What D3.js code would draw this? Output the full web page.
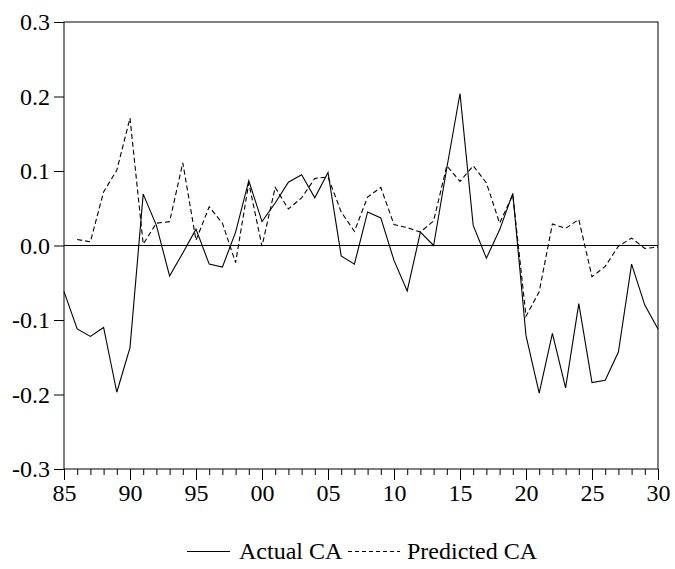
<!DOCTYPE html>
<html>
<head>
<meta charset="utf-8">
<script src="https://cdn.jsdelivr.net/npm/d3@7"></script>
<style>
  body { margin: 0; background: #fff; }
  svg { display: block; }
  svg text { font-family: "Liberation Serif", Tinos, "Times New Roman", serif !important; fill: #000; }
</style>
</head>
<body>
<svg id="chart" width="675" height="569"></svg>
<script>
const years = d3.range(1985, 2031);
const actualCA = [
  -0.062, -0.112, -0.122, -0.110, -0.197, -0.137, 0.069, 0.027, -0.041, -0.010,
  0.022, -0.025, -0.029, 0.018, 0.087, 0.032, 0.057, 0.085, 0.095, 0.064,
  0.098, -0.014, -0.025, 0.045, 0.037, -0.020, -0.061, 0.018, 0.000, 0.104,
  0.204, 0.027, -0.017, 0.021, 0.070, -0.121, -0.198, -0.118, -0.191, -0.078,
  -0.184, -0.181, -0.143, -0.025, -0.080, -0.112
];
const predictedCA = [
  null, 0.008, 0.005, 0.072, 0.101, 0.171, 0.002, 0.030, 0.032, 0.111,
  0.007, 0.052, 0.030, -0.023, 0.084, -0.001, 0.078, 0.049, 0.064, 0.090,
  0.092, 0.045, 0.019, 0.065, 0.078, 0.028, 0.024, 0.018, 0.033, 0.107,
  0.086, 0.107, 0.084, 0.030, 0.068, -0.095, -0.062, 0.029, 0.023, 0.035,
  -0.042, -0.028, -0.001, 0.010, -0.004, -0.002
];
const yTicks = [-0.3, -0.2, -0.1, 0.0, 0.1, 0.2, 0.3];
const yTickLabels = ["-0.3", "-0.2", "-0.1", "0.0", "0.1", "0.2", "0.3"];
const xMajorTicks = [1985, 1990, 1995, 2000, 2005, 2010, 2015, 2020, 2025, 2030];
const xTickLabels = ["85", "90", "95", "00", "05", "10", "15", "20", "25", "30"];
const seriesNames = ["Actual CA", "Predicted CA"];

const FONT = '"Liberation Serif", Tinos, "Times New Roman", serif';
const FS = 24;
const svg = d3.select("#chart");
const L = 64, R = 658, T = 22, B = 469;
const x = d3.scaleLinear().domain([1985, 2030]).range([L, R]);
const y = d3.scaleLinear().domain([-0.3, 0.3]).range([B, T]);

// frame
svg.append("rect").attr("x", L).attr("y", T).attr("width", R - L).attr("height", B - T)
  .attr("fill", "none").attr("stroke", "#000").attr("stroke-width", 1);

// zero line
svg.append("line").attr("x1", L).attr("x2", R).attr("y1", y(0)).attr("y2", y(0))
  .attr("stroke", "#000").attr("stroke-width", 1);

// y axis
const yAxis = d3.axisLeft(y).tickValues(yTicks).tickSize(10).tickPadding(4)
  .tickFormat((d, i) => yTickLabels[i]);
const gy = svg.append("g").attr("transform", `translate(${L},0)`).call(yAxis);
gy.attr("font-family", FONT).attr("font-size", FS);
gy.select(".domain").remove();
gy.selectAll("line").attr("stroke", "#000");

// x axis minor ticks
const xMinor = d3.axisBottom(x).tickValues(years).tickSize(6).tickFormat("");
const gxm = svg.append("g").attr("transform", `translate(0,${B})`).call(xMinor);
gxm.select(".domain").remove();
gxm.selectAll("line").attr("stroke", "#000");
// x axis major
const xMajor = d3.axisBottom(x).tickValues(xMajorTicks).tickSize(11).tickPadding(4)
  .tickFormat((d, i) => xTickLabels[i]);
const gx = svg.append("g").attr("transform", `translate(0,${B})`).call(xMajor);
gx.attr("font-family", FONT).attr("font-size", FS);
gx.select(".domain").remove();
gx.selectAll("line").attr("stroke", "#000");

// lines
const lineGen = d3.line().defined(d => d[1] !== null).x(d => x(d[0])).y(d => y(d[1]));
svg.append("path").datum(years.map((yr, i) => [yr, actualCA[i]]))
  .attr("d", lineGen).attr("fill", "none").attr("stroke", "#000").attr("stroke-width", 1.1);
svg.append("path").datum(years.map((yr, i) => [yr, predictedCA[i]]))
  .attr("d", lineGen).attr("fill", "none").attr("stroke", "#000").attr("stroke-width", 1.1)
  .attr("stroke-dasharray", "5,3");

// legend
const lg = svg.append("g").attr("font-family", FONT).attr("font-size", FS);
const ly = 551.5;
lg.append("line").attr("x1", 187).attr("x2", 230).attr("y1", ly).attr("y2", ly).attr("stroke", "#000");
lg.append("text").attr("x", 239).attr("y", 559).text(seriesNames[0]);
lg.append("line").attr("x1", 348).attr("x2", 400).attr("y1", ly).attr("y2", ly).attr("stroke", "#000")
  .attr("stroke-dasharray", "4,3");
lg.append("text").attr("x", 407).attr("y", 559).text(seriesNames[1]);
</script>
</body>
</html>
